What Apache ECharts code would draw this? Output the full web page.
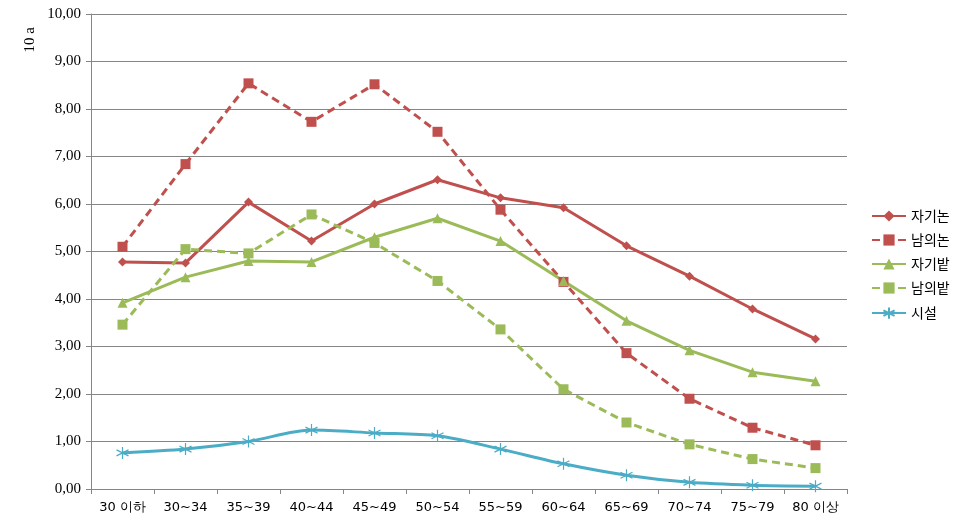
<!DOCTYPE html>
<html><head><meta charset="utf-8">
<script src="https://cdn.jsdelivr.net/npm/echarts@6/dist/echarts.min.js"></script>
<style>html,body{margin:0;padding:0;background:#fff}#c{width:960px;height:530px}</style>
</head><body><div id="c"></div>
<script>
const categories = ['30 이하','30~34','35~39','40~44','45~49','50~54','55~59','60~64','65~69','70~74','75~79','80 이상'];
const seriesNames = ['자기논','남의논','자기밭','남의밭','시설'];
const ownPaddy   = [4.78,4.76,6.04,5.22,6.00,6.51,6.13,5.92,5.12,4.48,3.79,3.16];
const rentPaddy  = [5.10,6.84,8.54,7.73,8.52,7.52,5.88,4.36,2.86,1.90,1.29,0.92];
const ownField   = [3.92,4.46,4.80,4.78,5.30,5.70,5.22,4.38,3.54,2.92,2.46,2.27];
const rentField  = [3.46,5.05,4.96,5.78,5.18,4.38,3.36,2.10,1.40,0.94,0.63,0.44];
const facility   = [0.76,0.84,1.00,1.24,1.18,1.12,0.84,0.53,0.29,0.14,0.08,0.06];
const yTicks = [0,1,2,3,4,5,6,7,8,9,10];

const RED='#C0504D', GREEN='#9BBB59', BLUE='#4BACC6';
const star='path://M0,-10L0,10M-8.66,-5L8.66,5M-8.66,5L8.66,-5';
const chart = echarts.init(document.getElementById('c'));
chart.setOption({
  animation:false,
  grid:{left:91,right:113,top:14,bottom:41},
  legend:{
    orient:'vertical', left:866, top:204, itemGap:10, itemWidth:34, itemHeight:14,
    textStyle:{fontFamily:'Noto Sans CJK KR', fontSize:14, color:'#000'},
    data:seriesNames
  },
  graphic:[{type:'text', left:23, top:27, rotation:Math.PI/2,
    style:{text:'10 a', font:'15px "Liberation Serif"', fill:'#000'}}],
  xAxis:{type:'category', data:categories, boundaryGap:true,
    axisLine:{lineStyle:{color:'#868686'}},
    axisTick:{show:true, length:5, lineStyle:{color:'#868686'}},
    axisLabel:{color:'#000', fontSize:13, fontFamily:'DejaVu Sans', margin:12, interval:0}},
  yAxis:{type:'value', min:0, max:10, interval:1,
    axisLine:{show:true, lineStyle:{color:'#868686'}},
    axisTick:{show:true, length:5, lineStyle:{color:'#868686'}},
    splitLine:{lineStyle:{color:'#868686'}},
    axisLabel:{color:'#000', fontSize:15, fontFamily:'Liberation Serif', margin:10,
      formatter:v=>v.toFixed(2).replace('.',',')}},
  series:[
    {name:seriesNames[0], type:'line', data:ownPaddy, symbol:'diamond', symbolSize:9,
      lineStyle:{color:RED,width:3}, itemStyle:{color:RED}},
    {name:seriesNames[1], type:'line', data:rentPaddy, symbol:'rect', symbolSize:10,
      lineStyle:{color:RED,width:3,type:[8,5]}, itemStyle:{color:RED}},
    {name:seriesNames[2], type:'line', data:ownField, symbol:'triangle', symbolSize:10,
      lineStyle:{color:GREEN,width:3}, itemStyle:{color:GREEN}},
    {name:seriesNames[3], type:'line', data:rentField, symbol:'rect', symbolSize:10,
      lineStyle:{color:GREEN,width:3,type:[8,5]}, itemStyle:{color:GREEN}},
    {name:seriesNames[4], type:'line', data:facility, symbol:star, symbolSize:12, smooth:0.3,
      lineStyle:{color:BLUE,width:3}, itemStyle:{color:'none', borderColor:BLUE, borderWidth:1.2}}
  ]
});
</script></body></html>
